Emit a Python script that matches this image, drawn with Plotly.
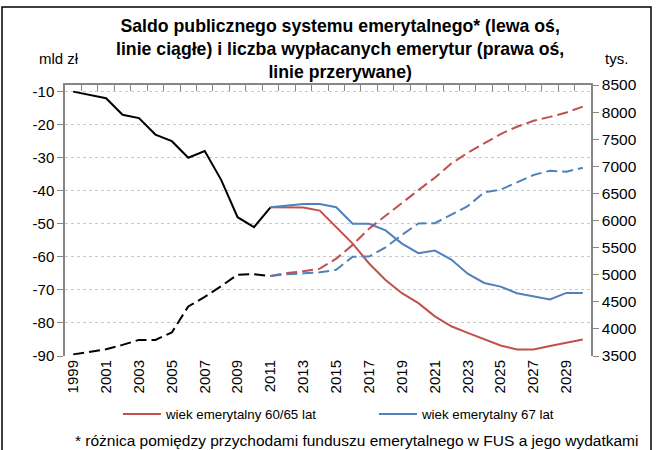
import plotly.graph_objects as go

years_hist = [str(y) for y in range(1999, 2012)]
years_proj = [str(y) for y in range(2011, 2031)]
all_years = [str(y) for y in range(1999, 2031)]
tick_years = [str(y) for y in range(1999, 2031, 2)]

# Saldo (mld zł) – left axis
saldo_hist = [-10.0, -11.0, -12.0, -17.0, -18.0, -23.0, -25.0, -30.0, -28.0, -36.7, -48.0, -51.0, -45.0]
saldo_6065 = [-45.0, -45.0, -45.1, -46.0, -51.0, -56.0, -62.0, -67.0, -71.0, -74.0,
              -78.0, -81.0, -83.0, -85.0, -86.8, -88.0, -88.0, -87.0, -86.0, -85.0]
saldo_67 = [-45.0, -44.4, -44.0, -44.0, -45.0, -50.0, -50.0, -52.0, -56.0, -58.9,
            -58.1, -60.8, -65.1, -67.9, -69.0, -71.0, -71.9, -72.9, -70.9, -70.9]

# Liczba emerytur (tys.) – right axis
emer_hist = [3530, 3578, 3624, 3705, 3797, 3797, 3935, 4415, 4590, 4790, 5000, 5010, 4975]
emer_6065 = [4975, 5030, 5065, 5112, 5296, 5550, 5850, 6090, 6330, 6560,
             6790, 7050, 7250, 7430, 7595, 7730, 7840, 7912, 7992, 8100]
emer_67 = [4975, 5010, 5025, 5044, 5090, 5332, 5335, 5505, 5735, 5945,
           5950, 6100, 6263, 6520, 6569, 6704, 6840, 6919, 6900, 6974]

left_ticks = list(range(-90, 0, 10))
left_text = [str(v) for v in left_ticks]
right_ticks = list(range(3500, 9000, 500))

RED = "#C0504D"
BLUE = "#4F81BD"
AXC = "#868686"
FONT = "Liberation Sans, Arial, sans-serif"
DASH = "11px,5px"

fig = go.Figure()

fig.add_trace(go.Scatter(x=years_hist, y=saldo_hist, mode="lines",
                         line=dict(color="black", width=2), showlegend=False))
fig.add_trace(go.Scatter(x=years_proj, y=saldo_6065, mode="lines",
                         line=dict(color=RED, width=2), name="wiek emerytalny 60/65 lat"))
fig.add_trace(go.Scatter(x=years_proj, y=saldo_67, mode="lines",
                         line=dict(color=BLUE, width=2), name="wiek emerytalny 67 lat"))
fig.add_trace(go.Scatter(x=years_hist, y=emer_hist, mode="lines", yaxis="y2",
                         line=dict(color="black", width=2, dash=DASH), showlegend=False))
fig.add_trace(go.Scatter(x=years_proj, y=emer_6065, mode="lines", yaxis="y2",
                         line=dict(color=RED, width=2, dash=DASH), showlegend=False))
fig.add_trace(go.Scatter(x=years_proj, y=emer_67, mode="lines", yaxis="y2",
                         line=dict(color=BLUE, width=2, dash=DASH), showlegend=False))
# helper trace so the top axis line (with boundary ticks) is drawn
fig.add_trace(go.Scatter(x=all_years, y=[None] * len(all_years), xaxis="x2",
                         mode="lines", showlegend=False, hoverinfo="skip"))

fig.update_layout(
    width=657, height=450,
    margin=dict(l=65, r=66, t=85, b=94, autoexpand=False),
    paper_bgcolor="white", plot_bgcolor="white",
    font=dict(family=FONT, size=15, color="black"),
    showlegend=True,
    xaxis=dict(type="category", categoryorder="array", categoryarray=all_years,
               range=[-0.5, 31.5], tickvals=tick_years, ticktext=tick_years,
               tickangle=-90, showline=False, ticks="", showgrid=False,
               zeroline=False, tickfont=dict(size=15), automargin=False),
    xaxis2=dict(type="category", categoryorder="array", categoryarray=all_years,
                range=[-0.5, 31.5], overlaying="x", side="top", anchor="y",
                showline=True, linecolor=AXC, linewidth=1.5,
                ticks="inside", tickson="boundaries", ticklen=6, tickcolor=AXC,
                showticklabels=False, showgrid=False, zeroline=False),
    yaxis=dict(range=[-90, -8], tickvals=left_ticks, ticktext=left_text,
               showline=True, linecolor=AXC,
               linewidth=1.5, ticks="outside", ticklen=6, tickcolor=AXC,
               showgrid=True, gridcolor="#c8c8c8", griddash="dot", gridwidth=1,
               zeroline=False, tickfont=dict(size=15), automargin=False),
    yaxis2=dict(range=[3500, 8500], tickvals=right_ticks, overlaying="y", side="right",
                showline=True, linecolor=AXC, linewidth=1.5, ticks="outside",
                ticklen=6, tickcolor=AXC, showgrid=False, zeroline=False,
                tickfont=dict(size=15.5), automargin=False),
    legend=dict(orientation="h", x=0.1007, xanchor="left", y=-0.215, yanchor="middle",
                font=dict(size=13.3), itemwidth=38, entrywidth=203,
                entrywidthmode="pixels", bgcolor="rgba(0,0,0,0)"),
)

fig.add_annotation(text="<b>Saldo publicznego systemu emerytalnego* (lewa oś,<br>"
                        "linie ciągłe) i liczba wypłacanych emerytur (prawa oś,<br>"
                        "linie przerywane)</b>",
                   xref="paper", yref="paper", x=(340 - 65) / 526, y=(356 - 14) / 271,
                   xanchor="center", yanchor="top", showarrow=False,
                   font=dict(size=17.7, family=FONT), align="center")
fig.add_annotation(text="mld zł", xref="paper", yref="paper",
                   x=(59 - 65) / 526, y=(356 - 58) / 271, xanchor="center", yanchor="middle",
                   showarrow=False, font=dict(size=15, family=FONT))
fig.add_annotation(text="tys.", xref="paper", yref="paper",
                   x=(616 - 65) / 526, y=(356 - 58) / 271, xanchor="center", yanchor="middle",
                   showarrow=False, font=dict(size=15, family=FONT))
fig.add_annotation(text="* różnica pomiędzy przychodami funduszu emerytalnego w FUS a jego wydatkami",
                   xref="paper", yref="paper", x=(356 - 65) / 526, y=(356 - 440) / 271,
                   xanchor="center", yanchor="middle", showarrow=False,
                   font=dict(size=15.5, family=FONT))

fig.add_shape(type="rect", xref="paper", yref="paper",
              x0=(2 - 65) / 526, x1=(651 - 65) / 526,
              y0=(356 - 470) / 271, y1=(356 - 7) / 271,
              line=dict(color="black", width=1.5), fillcolor="rgba(0,0,0,0)", layer="below")

fig.write_html("out.html", config={"displayModeBar": False},
               post_script="document.body.style.margin='0px';document.body.style.overflow='hidden';")
